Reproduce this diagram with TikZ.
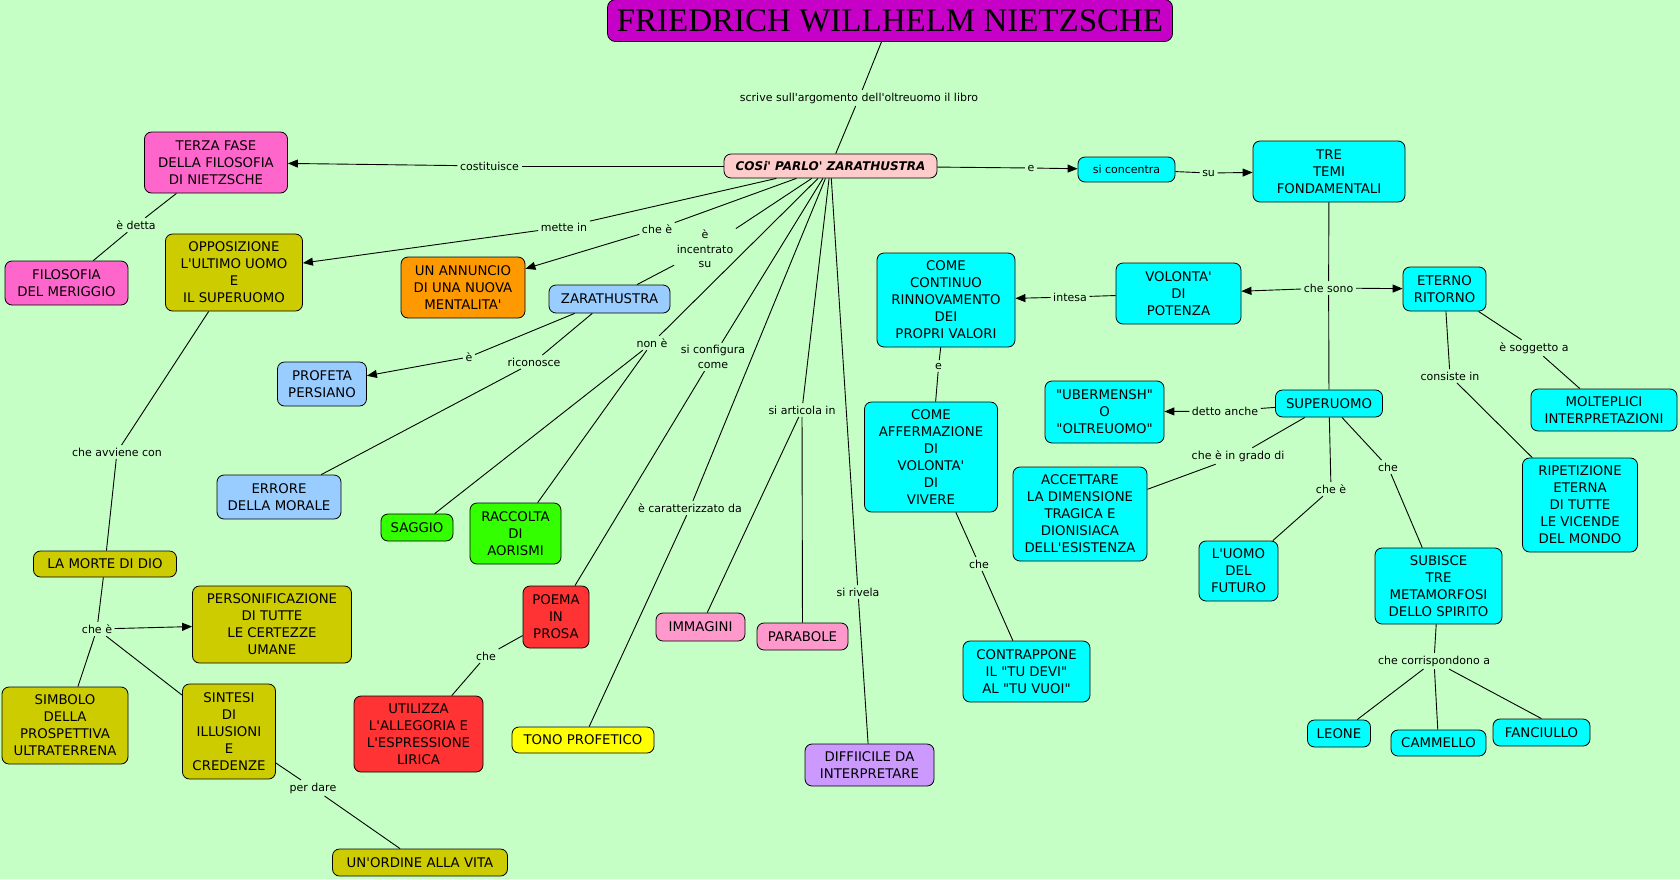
\documentclass[tikz,border=0pt]{standalone}
\usepackage{fontspec}
\setmainfont{DejaVu Sans}[Ligatures=TeXOff]
\newfontfamily\titlefont{Liberation Serif}[Ligatures=TeXOff]
\usetikzlibrary{arrows.meta}
\definecolor{bgc}{RGB}{198,255,198}
\definecolor{titlec}{RGB}{198,0,198}
\definecolor{pinkA}{RGB}{255,102,204}
\definecolor{pinkB}{RGB}{255,153,204}
\definecolor{olive}{RGB}{204,204,0}
\definecolor{orangec}{RGB}{255,153,0}
\definecolor{lblue}{RGB}{153,204,255}
\definecolor{greenc}{RGB}{51,255,0}
\definecolor{redc}{RGB}{255,51,51}
\definecolor{yellowc}{RGB}{255,255,0}
\definecolor{purplec}{RGB}{204,153,255}
\definecolor{cyanc}{RGB}{0,255,255}
\definecolor{cosic}{RGB}{255,204,204}
\begin{document}
\begin{tikzpicture}[x=1pt,y=-1pt,
  box/.style={draw=black, line width=0.8pt, rounded corners=7pt, align=center, inner sep=0pt,
    font=\fontsize{13.3}{17}\selectfont},
  lbl/.style={font=\fontsize{11}{14.5}\selectfont, align=center, inner sep=2.5pt},
  con/.style={draw=black, line width=0.9pt},
  arr/.style={con, -{Triangle[length=10pt,width=8pt]}}]
\fill[bgc] (0,0) rectangle (1680,879);
\useasboundingbox (0,0) rectangle (1680,879);

% ---- nodes ----
\node[box, fill=titlec, rounded corners=8pt, minimum width=565pt, minimum height=42pt] (title) at (890,20.5)
  {\titlefont\fontsize{33}{33}\selectfont FRIEDRICH WILLHELM NIETZSCHE};
\node[box, fill=cosic, minimum width=213pt, minimum height=24pt, font=\fontsize{12}{14}\selectfont\bfseries\itshape] (cosi) at (830.5,166) {COSi' PARLO' ZARATHUSTRA};

\node[box, fill=pinkA, minimum width=143pt, minimum height=61pt] (terza) at (216,162.5) {TERZA FASE\\DELLA FILOSOFIA\\DI NIETZSCHE};
\node[box, fill=pinkA, minimum width=123pt, minimum height=44pt] (filosofia) at (66.5,283) {FILOSOFIA\\DEL MERIGGIO};
\node[box, fill=olive, minimum width=137pt, minimum height=77pt] (oppos) at (234,272.5) {OPPOSIZIONE\\L'ULTIMO UOMO\\E\\IL SUPERUOMO};
\node[box, fill=orangec, minimum width=124pt, minimum height=61pt] (annuncio) at (463,287.5) {UN ANNUNCIO\\DI UNA NUOVA\\MENTALITA'};
\node[box, fill=lblue, minimum width=121pt, minimum height=28pt] (zara) at (609.5,299) {ZARATHUSTRA};
\node[box, fill=lblue, minimum width=89pt, minimum height=44pt] (profeta) at (322,384) {PROFETA\\PERSIANO};
\node[box, fill=lblue, minimum width=124pt, minimum height=44pt] (errore) at (279,497) {ERRORE\\DELLA MORALE};
\node[box, fill=greenc, minimum width=72pt, minimum height=27pt] (saggio) at (417,527.5) {SAGGIO};
\node[box, fill=greenc, minimum width=91pt, minimum height=61pt] (raccolta) at (515.5,533.5) {RACCOLTA\\DI\\AORISMI};
\node[box, fill=redc, minimum width=66pt, minimum height=62pt] (poema) at (556,617) {POEMA\\IN\\PROSA};
\node[box, fill=redc, minimum width=129pt, minimum height=76pt] (utilizza) at (418.5,734) {UTILIZZA\\L'ALLEGORIA E\\L'ESPRESSIONE\\LIRICA};
\node[box, fill=pinkB, minimum width=89pt, minimum height=28pt] (immagini) at (700.5,627) {IMMAGINI};
\node[box, fill=pinkB, minimum width=91pt, minimum height=27pt] (parabole) at (802.5,636.5) {PARABOLE};
\node[box, fill=yellowc, minimum width=142pt, minimum height=26pt] (tono) at (583,740) {TONO PROFETICO};
\node[box, fill=purplec, minimum width=129pt, minimum height=42pt] (diff) at (869.5,765) {DIFFIICILE DA\\INTERPRETARE};
\node[box, fill=cyanc, minimum width=127pt, minimum height=61pt] (contrap) at (1026.5,671.5) {CONTRAPPONE\\IL "TU DEVI"\\AL "TU VUOI"};
\node[box, fill=cyanc, minimum width=133pt, minimum height=110pt] (afferm) at (931,457) {COME\\AFFERMAZIONE\\DI\\VOLONTA'\\DI\\VIVERE};
\node[box, fill=cyanc, minimum width=138pt, minimum height=94pt] (continuo) at (946,300) {COME\\CONTINUO\\RINNOVAMENTO\\DEI\\PROPRI VALORI};
\node[box, fill=cyanc, minimum width=97pt, minimum height=25pt, font=\fontsize{11}{14}\selectfont] (conc) at (1126.5,169.5) {si concentra};
\node[box, fill=cyanc, minimum width=152pt, minimum height=61pt] (tre) at (1329,171.5) {TRE\\TEMI\\FONDAMENTALI};
\node[box, fill=cyanc, minimum width=125pt, minimum height=61pt] (volonta) at (1178.5,293.5) {VOLONTA'\\DI\\POTENZA};
\node[box, fill=cyanc, minimum width=83pt, minimum height=44pt] (eterno) at (1444.5,289) {ETERNO\\RITORNO};
\node[box, fill=cyanc, minimum width=107pt, minimum height=27pt] (super) at (1329,403.5) {SUPERUOMO};
\node[box, fill=cyanc, minimum width=119pt, minimum height=62pt] (uber) at (1104.5,412) {"UBERMENSH"\\O\\"OLTREUOMO"};
\node[box, fill=cyanc, minimum width=134pt, minimum height=94pt] (accett) at (1080,514) {ACCETTARE\\LA DIMENSIONE\\TRAGICA E\\DIONISIACA\\DELL'ESISTENZA};
\node[box, fill=cyanc, minimum width=146pt, minimum height=42pt] (molte) at (1604,410) {MOLTEPLICI\\INTERPRETAZIONI};
\node[box, fill=cyanc, minimum width=115pt, minimum height=94pt] (ripet) at (1580,505) {RIPETIZIONE\\ETERNA\\DI TUTTE\\LE VICENDE\\DEL MONDO};
\node[box, fill=cyanc, minimum width=79pt, minimum height=60pt] (uomo) at (1238.5,571) {L'UOMO\\DEL\\FUTURO};
\node[box, fill=cyanc, minimum width=127pt, minimum height=76pt] (subisce) at (1438.5,586) {SUBISCE\\TRE\\METAMORFOSI\\DELLO SPIRITO};
\node[box, fill=cyanc, minimum width=63pt, minimum height=27pt] (leone) at (1339,733.5) {LEONE};
\node[box, fill=cyanc, minimum width=95pt, minimum height=26pt] (cammello) at (1438.5,743) {CAMMELLO};
\node[box, fill=cyanc, minimum width=97pt, minimum height=27pt] (fanciullo) at (1541.5,732.5) {FANCIULLO};
\node[box, fill=olive, minimum width=143pt, minimum height=26pt] (morte) at (105,564) {LA MORTE DI DIO};
\node[box, fill=olive, minimum width=159pt, minimum height=77pt] (personif) at (272,624.5) {PERSONIFICAZIONE\\DI TUTTE\\LE CERTEZZE\\UMANE};
\node[box, fill=olive, minimum width=126pt, minimum height=77pt] (simbolo) at (65,725.5) {SIMBOLO\\DELLA\\PROSPETTIVA\\ULTRATERRENA};
\node[box, fill=olive, minimum width=93pt, minimum height=95pt] (sintesi) at (229,731.5) {SINTESI\\DI\\ILLUSIONI\\E\\CREDENZE};
\node[box, fill=olive, minimum width=175pt, minimum height=27pt] (ordine) at (420,862.5) {UN'ORDINE ALLA VITA};

% ---- labels ----
\node[lbl] (scrive) at (859,98) {scrive sull'argomento dell'oltreuomo il libro};
\node[lbl] (costit) at (489.5,166) {costituisce};
\node[lbl] (edetta) at (136,225) {è detta};
\node[lbl] (mette) at (564,227) {mette in};
\node[lbl] (cheEa) at (657,229) {che è};
\node[lbl] (incentr) at (705,249) {è\\incentrato\\su};
\node[lbl] (nonE) at (652,343) {non è};
\node[lbl] (configura) at (713,357) {si configura\\come};
\node[lbl] (caratt) at (690,508) {è caratterizzato da};
\node[lbl] (articola) at (802,410) {si articola in};
\node[lbl] (rivela) at (858,592) {si rivela};
\node[lbl] (eZ) at (469,357) {è};
\node[lbl] (riconosce) at (534,362) {riconosce};
\node[lbl] (cheP) at (486,656) {che};
\node[lbl] (avviene) at (117,452) {che avviene con};
\node[lbl] (cheEb) at (97,629) {che è};
\node[lbl] (perdare) at (313,788) {per dare};
\node[lbl] (eC) at (1031,168) {e};
\node[lbl] (su) at (1208.6,173) {su};
\node[lbl] (chesono) at (1328.6,288) {che sono};
\node[lbl] (intesa) at (1070,297) {intesa};
\node[lbl] (eA) at (938.6,366) {e};
\node[lbl] (cheA) at (979,564) {che};
\node[lbl] (detto) at (1225,411) {detto anche};
\node[lbl] (grado) at (1238,456) {che è in grado di};
\node[lbl] (cheEc) at (1331,489) {che è};
\node[lbl] (cheS) at (1388,467) {che};
\node[lbl] (consiste) at (1450,376) {consiste in};
\node[lbl] (soggetto) at (1534,348) {è soggetto a};
\node[lbl] (corr) at (1434,661) {che corrispondono a};

% ---- connectors ----
\draw[con] (title) -- (scrive);
\draw[con] (scrive) -- (cosi);
\draw[con] (cosi) -- (costit);
\draw[arr] (costit) -- (terza);
\draw[con] (terza) -- (edetta);
\draw[con] (edetta) -- (filosofia);
\draw[con] (cosi) -- (mette);
\draw[arr] (mette) -- (oppos);
\draw[con] (cosi) -- (cheEa);
\draw[arr] (cheEa) -- (annuncio);
\draw[con] (cosi) -- (incentr);
\draw[con] (incentr) -- (zara);
\draw[con] (zara) -- (eZ);
\draw[arr] (eZ) -- (profeta);
\draw[con] (zara) -- (riconosce);
\draw[con] (riconosce) -- (errore);
\draw[con] (cosi) -- (nonE);
\draw[con] (nonE) -- (saggio);
\draw[con] (nonE) -- (raccolta);
\draw[con] (cosi) -- (configura);
\draw[con] (configura) -- (poema);
\draw[con] (poema) -- (cheP);
\draw[con] (cheP) -- (utilizza);
\draw[con] (cosi) -- (caratt);
\draw[con] (caratt) -- (tono);
\draw[con] (cosi) -- (articola);
\draw[con] (articola) -- (immagini);
\draw[con] (articola) -- (parabole);
\draw[con] (cosi) -- (rivela);
\draw[con] (rivela) -- (diff);
\draw[con] (oppos) -- (avviene);
\draw[con] (avviene) -- (morte);
\draw[con] (morte) -- (cheEb);
\draw[arr] (cheEb) -- (personif);
\draw[con] (cheEb) -- (simbolo);
\draw[con] (cheEb) -- (sintesi);
\draw[con] (sintesi) -- (perdare);
\draw[con] (perdare) -- (ordine);
\draw[con] (cosi) -- (eC);
\draw[arr] (eC) -- (conc);
\draw[con] (conc) -- (su);
\draw[arr] (su) -- (tre);
\draw[con] (tre) -- (chesono);
\draw[arr] (chesono) -- (volonta);
\draw[arr] (chesono) -- (eterno);
\draw[con] (chesono) -- (super);
\draw[con] (volonta) -- (intesa);
\draw[arr] (intesa) -- (continuo);
\draw[con] (continuo) -- (eA);
\draw[con] (eA) -- (afferm);
\draw[con] (afferm) -- (cheA);
\draw[con] (cheA) -- (contrap);
\draw[con] (super) -- (detto);
\draw[arr] (detto) -- (uber);
\draw[con] (super) -- (grado);
\draw[con] (grado) -- (accett);
\draw[con] (super) -- (cheEc);
\draw[con] (cheEc) -- (uomo);
\draw[con] (super) -- (cheS);
\draw[con] (cheS) -- (subisce);
\draw[con] (eterno) -- (consiste);
\draw[con] (consiste) -- (ripet);
\draw[con] (eterno) -- (soggetto);
\draw[con] (soggetto) -- (molte);
\draw[con] (subisce) -- (corr);
\draw[con] (corr) -- (leone);
\draw[con] (corr) -- (cammello);
\draw[con] (corr) -- (fanciullo.north);
\end{tikzpicture}
\end{document}
